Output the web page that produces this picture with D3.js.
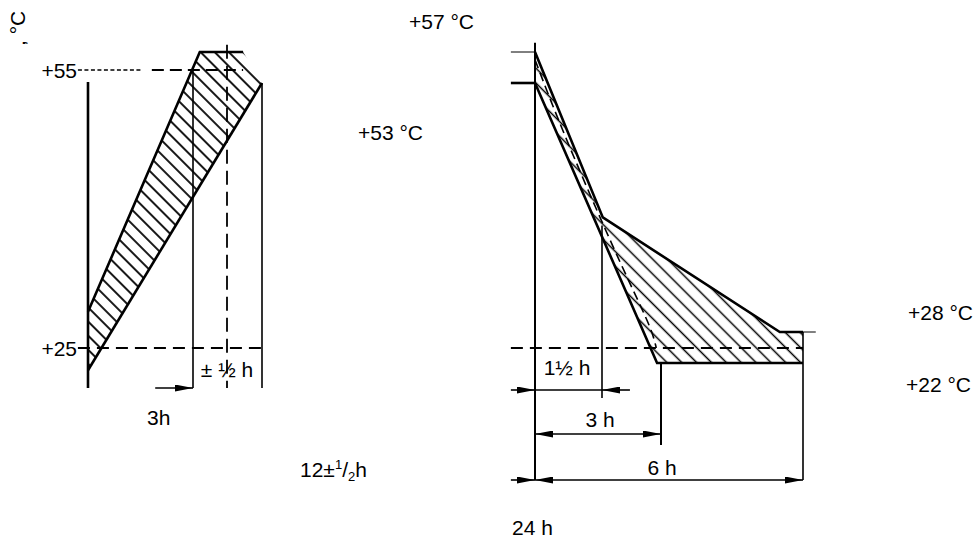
<!DOCTYPE html>
<html>
<head>
<meta charset="utf-8">
<script src="https://cdn.jsdelivr.net/npm/d3@7"></script>
<style>
  body { margin: 0; background: #fff; }
  text { font-family: "Liberation Sans", Arial, sans-serif; fill: #000; font-size: 21px; }
</style>
</head>
<body>
<svg id="chart"></svg>
<script>
const W = 976, H = 541

// left part: rise from +25 °C to +55 °C within 3 h ± 1/2 h
const leftHours = [0, 2.5, 3, 3.5]
const leftTemps = [25, 55, 57]
const leftTicks = [55, 25]
const leftBand = [[0, 28.9], [2.6, 57], [3.23, 57], [3.5, 53.6], [0, 22.6]]
const leftUpper = [[0, 28.9], [2.6, 57], [3.23, 57]]
const leftLower = [[0, 22.6], [3.5, 53.6]]
const leftLabels = ['± ½ h', '3h']

// right part: fall back to +25 °C
const rightHours = [0, 1.5, 3, 6]
const rightTemps = [22, 25, 28, 53, 57]
const rightBand = [[0, 57], [1.52, 39.5], [5.51, 28], [6, 28], [6, 22], [2.9, 22], [0, 53]]
const rightUpper = [[0, 57], [1.52, 39.5], [5.51, 28], [6, 28]]
const rightLower = [[0, 53], [2.9, 22], [6, 22]]
const rightMid = [[0, 56], [0.6, 48.3], [1.7, 37.2], [2.29, 32.2], [2.77, 28.2], [2.88, 25]]
const rightTicks = [57, 53]
const tempLabels = ['+57 °C', '+53 °C', '+28 °C', '+22 °C']
const dimHours = [1.5, 3, 6]
const dimLabels = ['1½ h', '3 h', '6 h']

const svg = d3.select('#chart').attr('width', W).attr('height', H)
const defs = svg.append('defs')

function hatch(id, gap, w) {
  const p = defs.append('pattern')
    .attr('id', id)
    .attr('patternUnits', 'userSpaceOnUse')
    .attr('width', gap).attr('height', gap)
    .attr('patternTransform', 'rotate(-45)')
  p.append('line')
    .attr('x1', gap / 2).attr('x2', gap / 2)
    .attr('y1', 0).attr('y2', gap)
    .attr('stroke', '#000').attr('stroke-width', w)
}
hatch('hatchL', 10, 1.8)
hatch('hatchR', 10.5, 1.5)

defs.append('marker')
  .attr('id', 'arrow')
  .attr('viewBox', '0 0 18 7')
  .attr('markerUnits', 'userSpaceOnUse')
  .attr('markerWidth', 18).attr('markerHeight', 7)
  .attr('refX', 18).attr('refY', 3.5)
  .attr('orient', 'auto-start-reverse')
  .append('path').attr('d', 'M0,0L18,3.5L0,7Z').attr('fill', '#000')

function seg(x1, y1, x2, y2, w = 1.6, dash = null) {
  const l = svg.append('line')
    .attr('x1', x1).attr('y1', y1).attr('x2', x2).attr('y2', y2)
    .attr('stroke', '#000').attr('stroke-width', w)
  if (dash) l.attr('stroke-dasharray', dash)
  return l
}

function label(x, y, t, anchor = 'start') {
  return svg.append('text').attr('x', x).attr('y', y)
    .attr('text-anchor', anchor).text(t)
}

// ---------- left panel ----------
const xL = d3.scaleLinear().domain(leftHours).range([88, 193, 227, 262])
const yL = d3.scaleLinear().domain(leftTemps).range([348, 70, 52])
const lineL = d3.line().x(d => xL(d[0])).y(d => yL(d[1]))
const baseL = yL(25) + 40

svg.append('path').attr('d', lineL(leftBand) + 'Z')
  .attr('fill', 'url(#hatchL)')

// +55 / +25 reference lines
seg(xL(-0.24), yL(55), xL(1.25), yL(55), 1.4, '4,2.5')
seg(xL(1.52), yL(55), xL(3.23), yL(55), 2, '12,6')
seg(xL(-0.24), yL(25), xL(3.55), yL(25), 2, '12,7')

// verticals
seg(xL(0), yL(53.7), xL(0), baseL, 2.6)
seg(xL(2.5), yL(55), xL(2.5), baseL, 1.6)
seg(xL(3.5), yL(53.6), xL(3.5), baseL, 1.6)
seg(xL(3), yL(57.8), xL(3), baseL, 1.8, '14,7')

// band outline
svg.append('path').attr('d', lineL(leftUpper))
  .attr('fill', 'none').attr('stroke', '#000').attr('stroke-width', 2.6)
svg.append('path').attr('d', lineL(leftLower))
  .attr('fill', 'none').attr('stroke', '#000').attr('stroke-width', 2.6)

// tick labels through a d3 axis
const axL = svg.append('g')
  .attr('transform', `translate(${xL(0) - 2}, 0)`)
  .call(d3.axisLeft(yL).tickValues(leftTicks).tickSize(0).tickPadding(9)
    .tickFormat(d => '+' + d))
axL.select('.domain').remove()
axL.selectAll('text').attr('font-size', 21).attr('font-family', null).attr('dy', '0.36em')

// ±½ h dimension
seg(xL(1.6), baseL, xL(2.5), baseL, 1.6).attr('marker-end', 'url(#arrow)')
label(xL(3), baseL - 11, leftLabels[0], 'middle')
label(147, baseL + 37, leftLabels[1])

const t12 = label(300, baseL + 89, '12±')
t12.append('tspan').attr('font-size', 13).attr('dy', -8).text('1')
t12.append('tspan').attr('dy', 8).text('/')
t12.append('tspan').attr('font-size', 13).attr('dy', 4).text('2')
t12.append('tspan').attr('dy', -4).text('h')

// rotated unit label
label(0, 0, ', °C')
  .attr('transform', 'translate(25,46) rotate(-90)')

// ---------- right panel ----------
const xR = d3.scaleLinear().domain(rightHours).range([535, 602, 661, 803])
const yR = d3.scaleLinear().domain(rightTemps).range([363, 348, 332, 83, 52])
const lineR = d3.line().x(d => xR(d[0])).y(d => yR(d[1]))
const rows = [27, 71, 117].map(o => yR(22) + o)

svg.append('path').attr('d', lineR(rightBand) + 'Z')
  .attr('fill', 'url(#hatchR)')

seg(xR(-0.54), yR(25), xR(6), yR(25), 2, '12,7')

svg.append('path')
  .attr('d', d3.line().x(d => xR(d[0])).y(d => yR(d[1])).curve(d3.curveBasis)(rightMid))
  .attr('fill', 'none').attr('stroke', '#000').attr('stroke-width', 1.6)
  .attr('stroke-dasharray', '9,5')

// axis and ticks
seg(xR(0), yR(58.2), xR(0), rows[2], 2)
seg(xR(-0.54), yR(rightTicks[0]), xR(0), yR(rightTicks[0]), 1)
seg(xR(-0.54), yR(rightTicks[1]), xR(0), yR(rightTicks[1]), 2.6)

// extension lines
seg(xR(dimHours[0]), yR(38.7), xR(dimHours[0]), rows[0] + 8, 1.6)
seg(xR(dimHours[1]), yR(22), xR(dimHours[1]), rows[1] + 11, 2)
seg(xR(dimHours[2]), yR(28), xR(dimHours[2]), rows[2], 1.6)
seg(xR(6), yR(28), xR(6.27), yR(28), 1)

// band outline
svg.append('path').attr('d', lineR(rightUpper))
  .attr('fill', 'none').attr('stroke', '#000').attr('stroke-width', 2.6)
svg.append('path').attr('d', lineR(rightLower))
  .attr('fill', 'none').attr('stroke', '#000').attr('stroke-width', 2.6)

// dimension lines
seg(xR(-0.54), rows[0], xR(0), rows[0], 1.6).attr('marker-end', 'url(#arrow)')
seg(xR(0), rows[0], xR(dimHours[0]), rows[0], 1.6)
seg(xR(2.21), rows[0], xR(dimHours[0]), rows[0], 1.6).attr('marker-end', 'url(#arrow)')
seg(xR(0), rows[1], xR(dimHours[1]), rows[1], 1.6)
  .attr('marker-start', 'url(#arrow)').attr('marker-end', 'url(#arrow)')
seg(xR(-0.54), rows[2], xR(0), rows[2], 1.6).attr('marker-end', 'url(#arrow)')
seg(xR(0), rows[2], xR(dimHours[2]), rows[2], 1.6)
  .attr('marker-start', 'url(#arrow)').attr('marker-end', 'url(#arrow)')

label(567, rows[0] - 15, dimLabels[0], 'middle')
label(600, rows[1] - 7, dimLabels[1], 'middle')
label(662, rows[2] - 5, dimLabels[2], 'middle')
label(512, rows[2] + 55, '24 h')

// temperature labels
label(409, 29, tempLabels[0])
label(358, 140, tempLabels[1])
label(908, 320, tempLabels[2])
label(906, 392, tempLabels[3])
</script>
</body>
</html>
